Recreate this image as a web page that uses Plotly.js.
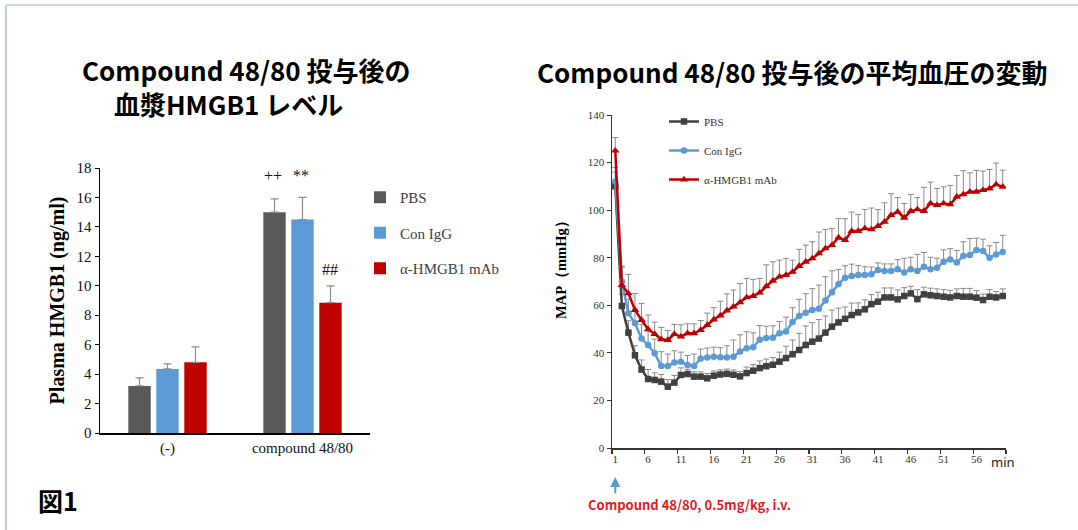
<!DOCTYPE html>
<html>
<head>
<meta charset="utf-8">
<script src="https://cdn.plot.ly/plotly-3.0.1.min.js"></script>
<style>html,body{margin:0;padding:0;background:#fff;}#chart{width:1078px;height:530px;}</style>
</head>
<body>
<div id="chart"></div>
<script>
// ---- Left chart: plasma HMGB1 bars ----
const barCategories = ["(-)", "compound 48/80"];
const barSeriesNames = ["PBS", "Con IgG", "\u03b1-HMGB1 mAb"];
const barPBS = [3.2, 15.0];
const barConIgG = [4.35, 14.5];
const barAntiHMGB1 = [4.8, 8.85];
const barErrPBS = [0.55, 0.9];
const barErrConIgG = [0.35, 1.5];
const barErrAntiHMGB1 = [1.05, 1.15];

// ---- Right chart: MAP time course ----
const minutes = [1,2,3,4,5,6,7,8,9,10,11,12,13,14,15,16,17,18,19,20,21,22,23,24,25,26,27,28,29,30,
                 31,32,33,34,35,36,37,38,39,40,41,42,43,44,45,46,47,48,49,50,51,52,53,54,55,56,57,58,59,60];
const minuteTicks = [1,6,11,16,21,26,31,36,41,46,51,56];
const minuteBoundaries = [0.5,5.5,10.5,15.5,20.5,25.5,30.5,35.5,40.5,45.5,50.5,55.5,60.5];
const mapPBS = [110,59.7,48.5,39,33,29,28.6,27.9,25.8,27.5,30.7,31.1,30,30,29.3,30.4,30.9,31.2,30.8,30.1,
                31.5,32.5,33.6,34.4,35,36.3,37.8,39.4,41.2,43.3,44.7,46,48.5,51,52.8,54.3,55.9,57,58.3,60.5,
                61.5,63.3,63.3,62.5,63.9,65,62.6,64.6,64.2,63.9,63.6,63.3,63.9,63.6,63.6,63.2,62.2,63.6,63.3,63.9];
const errPBS = [6,5,5,4,4,4,3,3,3,3,3,2,2,2,2,2,2,2,2,2,
                2.5,2.5,3,3,3,4,5,6,7,8,8,8,7,7,6,5,5,4,4,4,
                4,4,4,4,3.5,3,4,3,3,3,3,3,3,3.5,3.5,3,2.5,3,2.5,3];
const mapConIgG = [112,70,56.6,52.4,46,43.3,39.8,34.5,34.5,35.9,36.3,34.9,34.5,37.6,38,38.4,38.2,38,38.4,40.6,
                   41.9,42.4,45.5,46.2,46.4,48.2,49,53,55.5,56.9,58,58.5,62,65.5,69,71.6,72.3,72.7,72.7,73.1,
                   74.8,74.4,74.4,75.2,73.8,75.2,74.4,76.2,75.2,75.8,78.3,79.3,78,80.7,81.1,83.2,82.8,80,81.4,82.4];
const errConIgG = [6,6,6,6,6,6,6,6,5,5,4,4,5,4,4,4,4,5,7,7,
                   7,6,6,5,5,5,6,6,7,8,9,10,10,9,6,5,5,4,3.5,3,
                   3,3,3,4,6,5,7,6,5,4,5,4.5,5,6,7,5,5,5,5,7];
const mapAntiHMGB1 = [125,68.5,65,58,53.8,49.9,47.9,45.7,45.4,47.9,46.8,48.2,48.2,49.6,51.7,54,55.7,57.8,59.4,61.2,
                      63.3,63.9,65.3,68,70.3,72,72.7,74,76.5,78.3,79.7,81.8,83.9,85.3,88.5,87.4,91.2,91.2,92.3,91.9,
                      93.3,95.1,97.9,99.3,96.8,99.6,100.3,99.6,102.8,102.1,102.8,102.4,105.6,106.6,107.7,107.7,108.4,109.1,110.8,109.8];
const errAntiHMGB1 = [5.5,8,8,7,7,6,5,5,4,4,5,4,4,4,5,5,6,7,7,8,
                      8,7,6,9,8,7,7,5,7,7,7,9,8,7,8,9,8,7,8,9,
                      7,8,9,6,6,7,5,10,9,7,7,8,9,10,8,9,8,8,9,7];

const W = 1078, H = 530;
const px = x => x / W;
const py = y => 1 - y / H;
const serif = "Liberation Serif, Times New Roman, serif";
const sans = "Noto Sans CJK JP, Noto Sans, sans-serif";

const barColors = ["#595959", "#5b9bd5", "#c00000"];
const barVals = [barPBS, barConIgG, barAntiHMGB1];
const barErrs = [barErrPBS, barErrConIgG, barErrAntiHMGB1];

const traces = [];
barVals.forEach((vals, i) => {
  traces.push({
    type: "bar", x: barCategories, y: vals, name: barSeriesNames[i],
    marker: {color: barColors[i]},
    error_y: {type: "data", symmetric: false, array: barErrs[i], arrayminus: vals.map(() => 0),
              color: "#8c8c8c", thickness: 1.2, width: 4},
    xaxis: "x", yaxis: "y", legend: "legend", legendgroup: "b" + i
  });
});

const lineColors = ["#404040", "#5b9bd5", "#c00000"];
const lineSymbols = ["square", "circle", "triangle-up"];
const lineSizes = [6.5, 6.5, 7.5];
const lineVals = [mapPBS, mapConIgG, mapAntiHMGB1];
const lineErrs = [errPBS, errConIgG, errAntiHMGB1];
lineVals.forEach((vals, i) => {
  traces.push({
    type: "scatter", mode: "lines+markers", x: minutes, y: vals, name: barSeriesNames[i],
    line: {color: lineColors[i], width: 2.5},
    marker: {color: lineColors[i], symbol: lineSymbols[i], size: lineSizes[i]},
    error_y: {type: "data", symmetric: false, array: lineErrs[i], arrayminus: vals.map(() => 0),
              color: "#8a8a8a", thickness: 1, width: 3},
    xaxis: "x2", yaxis: "y2", legend: "legend2", legendgroup: "l" + i
  });
});

function note(text, x, y, size, color, family, angle) {
  return {text: text, xref: "paper", yref: "paper", x: px(x), y: py(y), xanchor: "center", yanchor: "middle",
          textangle: angle || 0,
          showarrow: false, font: {family: family || sans, size: size, color: color || "#000"}};
}

const leftTitle = {
  text: "<b>Compound 48/80 投与後の<br>\u3000&nbsp;血漿HMGB1 レベル</b>",
  xref: "paper", yref: "paper", x: px(80), y: py(87), xanchor: "left", yanchor: "middle", align: "left",
  showarrow: false, font: {family: sans, size: 26, color: "#000"}
};

const layout = {
  width: W, height: H,
  margin: {l: 0, r: 0, t: 0, b: 0},
  paper_bgcolor: "#ffffff", plot_bgcolor: "rgba(0,0,0,0)",
  showlegend: true,
  barmode: "group", bargap: 0.378, bargroupgap: 0.2,
  xaxis: {
    domain: [px(100), px(370)], range: [-0.5, 1.5], type: "category",
    showline: true, linecolor: "#000", linewidth: 1.5, ticks: "", showgrid: false, zeroline: false,
    tickfont: {family: serif, size: 15, color: "#111"}, anchor: "y", fixedrange: true
  },
  yaxis: {
    domain: [py(433), py(168)], range: [0, 18], dtick: 2,
    showline: true, linecolor: "#000", linewidth: 1.5, ticks: "outside", ticklen: 4, tickcolor: "#000",
    showgrid: false, zeroline: false,
    tickfont: {family: serif, size: 15, color: "#111"},
    title: {text: "<b>Plasma HMGB1 (ng/ml)</b>", font: {family: serif, size: 20, color: "#000"}, standoff: 6},
    anchor: "x"
  },
  xaxis2: {
    domain: [px(612), px(1006)], range: [0.5, 60.5],
    tickmode: "array", tickvals: minuteTicks, ticktext: minuteTicks.map(String),
    showline: true, linecolor: "#333", linewidth: 1.5, ticks: "", showgrid: false, zeroline: false,
    minor: {tickmode: "array", tickvals: minuteBoundaries, ticks: "outside", ticklen: 4, tickcolor: "#333", tickwidth: 1.2},
    tickfont: {family: serif, size: 11, color: "#333"}, anchor: "y2"
  },
  yaxis2: {
    domain: [py(448), py(115)], range: [0, 140], dtick: 20,
    showline: true, linecolor: "#333", linewidth: 1.5, ticks: "outside", ticklen: 4, tickcolor: "#333",
    showgrid: false, zeroline: false,
    tickfont: {family: serif, size: 11, color: "#333"},
    anchor: "x2"
  },
  legend: {
    x: px(360), y: py(181), xanchor: "left", yanchor: "top",
    font: {family: serif, size: 15, color: "#404040"}, bgcolor: "rgba(0,0,0,0)",
    tracegroupgap: 13, itemwidth: 30, traceorder: "grouped"
  },
  legend2: {
    x: px(664), y: py(107), xanchor: "left", yanchor: "top",
    font: {family: serif, size: 11, color: "#333"}, bgcolor: "rgba(0,0,0,0)",
    tracegroupgap: 10, itemwidth: 30, traceorder: "grouped"
  },
  annotations: [
    leftTitle,
    note("<b>Compound 48/80 投与後の平均血圧の変動</b>", 792, 72, 26),
    note("<b>MAP\uff08mmHg\uff09</b>", 561, 266, 14.5, "#000", serif, -90),
    {text: "++", xref: "x", yref: "y", x: 0.785, y: 17.5, showarrow: false, font: {family: serif, size: 16, color: "#111"}},
    {text: "**", xref: "x", yref: "y", x: 0.99, y: 17.5, showarrow: false, font: {family: serif, size: 16, color: "#111"}},
    {text: "##", xref: "x", yref: "y", x: 1.2, y: 11.1, showarrow: false, font: {family: serif, size: 16, color: "#111"}},
    note("min", 1003, 462, 13, "#222", "Noto Sans, sans-serif"),
    {text: "", xref: "x2", yref: "paper", x: 1, y: py(477), ax: 0, ay: 18, showarrow: true,
     arrowhead: 2, arrowsize: 1, arrowwidth: 2, arrowcolor: "#5b9bd5"},
    note("<b>Compound 48/80, 0.5mg/kg, i.v.</b>", 689, 504, 13, "#e31b23"),
    note("<b>図1</b>", 58, 500, 25)
  ],
  shapes: [
    {type: "line", xref: "paper", yref: "paper", x0: px(6), x1: px(6), y0: 0, y1: py(5),
     line: {color: "#b9cadb", width: 2}},
    {type: "line", xref: "paper", yref: "paper", x0: px(6), x1: 1, y0: py(5), y1: py(5),
     line: {color: "#c9d6e3", width: 2}}
  ]
};

Plotly.newPlot("chart", traces, layout, {displayModeBar: false, staticPlot: true});
</script>
</body>
</html>
